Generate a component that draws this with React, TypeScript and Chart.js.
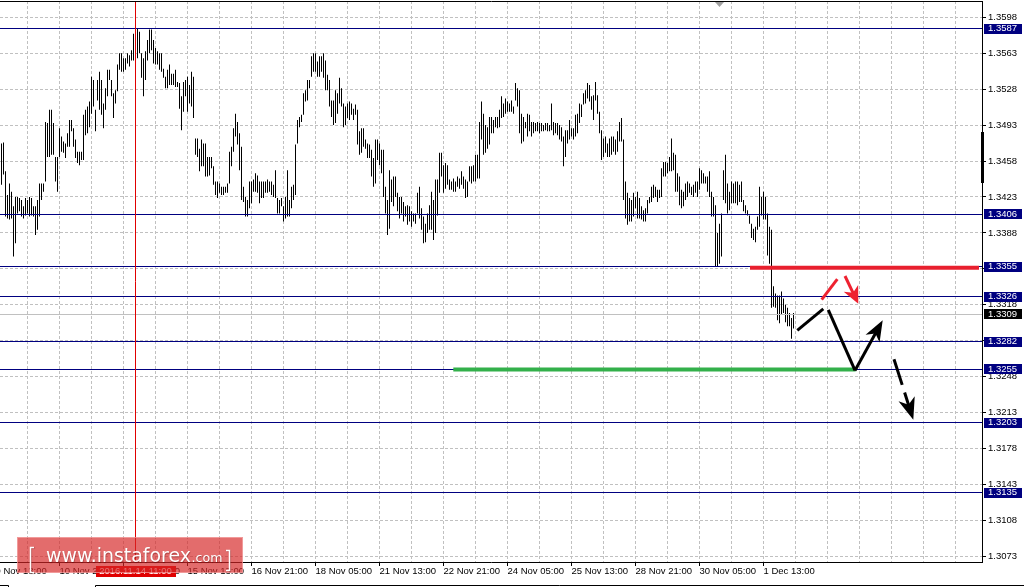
import React, { useEffect, useRef } from 'react';
import { Chart, registerables } from 'chart.js';

Chart.register(...registerables);

// H1 bars, index 0 = 9 Nov 16:00 ... index 396 = 1 Dec (last bar)
const highs = [
  1.3475, 1.3476, 1.3448, 1.3425, 1.3436, 1.3428, 1.3414, 1.3423, 1.3423, 1.3422,
  1.3420, 1.3414, 1.3422, 1.3420, 1.3423, 1.3422, 1.3414, 1.3414, 1.3420, 1.3436,
  1.3436, 1.3436, 1.3496, 1.3495, 1.3508, 1.3508, 1.3495, 1.3462, 1.3462, 1.3490,
  1.3482, 1.3477, 1.3475, 1.3485, 1.3498, 1.3498, 1.3490, 1.3479, 1.3467, 1.3467,
  1.3467, 1.3503, 1.3508, 1.3511, 1.3516, 1.3540, 1.3537, 1.3508, 1.3537, 1.3545,
  1.3537, 1.3514, 1.3529, 1.3547, 1.3547, 1.3537, 1.3524, 1.3527, 1.3552, 1.3563,
  1.3563, 1.3558, 1.3558, 1.3563, 1.3561, 1.3566, 1.3582, 1.3587, 1.3587, 1.3584,
  1.3563, 1.3558, 1.3565, 1.3576, 1.3586, 1.3586, 1.3576, 1.3568, 1.3565, 1.3563,
  1.3563, 1.3548, 1.3540, 1.3547, 1.3552, 1.3543, 1.3543, 1.3547, 1.3535, 1.3534,
  1.3521, 1.3535, 1.3537, 1.3540, 1.3532, 1.3545, 1.3540, 1.3480, 1.3480, 1.3470,
  1.3479, 1.3475, 1.3475, 1.3462, 1.3462, 1.3462, 1.3453, 1.3438, 1.3438, 1.3436,
  1.3433, 1.3433, 1.3433, 1.3436, 1.3467, 1.3472, 1.3490, 1.3504, 1.3496, 1.3485,
  1.3472, 1.3433, 1.3423, 1.3420, 1.3438, 1.3438, 1.3440, 1.3446, 1.3444, 1.3438,
  1.3438, 1.3438, 1.3438, 1.3440, 1.3438, 1.3438, 1.3435, 1.3449, 1.3422, 1.3420,
  1.3422, 1.3414, 1.3423, 1.3449, 1.3420, 1.3433, 1.3435, 1.3474, 1.3498, 1.3501,
  1.3503, 1.3524, 1.3527, 1.3537, 1.3537, 1.3560, 1.3563, 1.3563, 1.3555, 1.3560,
  1.3560, 1.3563, 1.3556, 1.3542, 1.3537, 1.3517, 1.3517, 1.3527, 1.3524, 1.3539,
  1.3529, 1.3514, 1.3511, 1.3514, 1.3516, 1.3514, 1.3509, 1.3513, 1.3508, 1.3487,
  1.3490, 1.3490, 1.3479, 1.3475, 1.3474, 1.3469, 1.3461, 1.3479, 1.3479, 1.3475,
  1.3469, 1.3469, 1.3433, 1.3420, 1.3449, 1.3440, 1.3443, 1.3443, 1.3427, 1.3423,
  1.3423, 1.3418, 1.3414, 1.3415, 1.3414, 1.3409, 1.3407, 1.3407, 1.3427, 1.3433,
  1.3412, 1.3404, 1.3397, 1.3407, 1.3415, 1.3428, 1.3420, 1.3440, 1.3440, 1.3466,
  1.3466, 1.3454, 1.3456, 1.3454, 1.3440, 1.3438, 1.3441, 1.3438, 1.3443, 1.3441,
  1.3448, 1.3443, 1.3440, 1.3438, 1.3453, 1.3453, 1.3454, 1.3464, 1.3464, 1.3496,
  1.3516, 1.3504, 1.3493, 1.3491, 1.3501, 1.3501, 1.3498, 1.3501, 1.3501, 1.3508,
  1.3521, 1.3514, 1.3519, 1.3516, 1.3514, 1.3517, 1.3511, 1.3534, 1.3529, 1.3527,
  1.3504, 1.3501, 1.3496, 1.3504, 1.3503, 1.3496, 1.3496, 1.3495, 1.3496, 1.3495,
  1.3495, 1.3493, 1.3495, 1.3495, 1.3493, 1.3514, 1.3496, 1.3495, 1.3495, 1.3493,
  1.3491, 1.3482, 1.3488, 1.3488, 1.3498, 1.3490, 1.3490, 1.3503, 1.3504, 1.3514,
  1.3513, 1.3524, 1.3527, 1.3534, 1.3532, 1.3521, 1.3522, 1.3535, 1.3522, 1.3506,
  1.3488, 1.3480, 1.3482, 1.3475, 1.3480, 1.3482, 1.3482, 1.3479, 1.3487, 1.3496,
  1.3500, 1.3479, 1.3438, 1.3427, 1.3422, 1.3420, 1.3427, 1.3423, 1.3428, 1.3422,
  1.3414, 1.3410, 1.3412, 1.3420, 1.3423, 1.3433, 1.3435, 1.3433, 1.3430, 1.3430,
  1.3451, 1.3457, 1.3457, 1.3456, 1.3462, 1.3480, 1.3466, 1.3464, 1.3446, 1.3443,
  1.3430, 1.3428, 1.3436, 1.3438, 1.3436, 1.3433, 1.3435, 1.3438, 1.3438, 1.3451,
  1.3449, 1.3446, 1.3443, 1.3443, 1.3448, 1.3428, 1.3423, 1.3415, 1.3388, 1.3397,
  1.3407, 1.3449, 1.3464, 1.3436, 1.3428, 1.3438, 1.3436, 1.3438, 1.3438, 1.3435,
  1.3438, 1.3420, 1.3415, 1.3410, 1.3405, 1.3397, 1.3392, 1.3394, 1.3404, 1.3433,
  1.3423, 1.3428, 1.3423, 1.3407, 1.3394, 1.3391, 1.3336, 1.3329, 1.3327, 1.3327,
  1.3331, 1.3324, 1.3318, 1.3315, 1.3310, 1.3305, 1.3310,
];

const lows = [
  1.3435, 1.3445, 1.3404, 1.3402, 1.3401, 1.3402, 1.3365, 1.3378, 1.3407, 1.3409,
  1.3404, 1.3402, 1.3405, 1.3407, 1.3404, 1.3405, 1.3404, 1.3386, 1.3391, 1.3404,
  1.3420, 1.3428, 1.3438, 1.3462, 1.3462, 1.3464, 1.3464, 1.3438, 1.3428, 1.3462,
  1.3467, 1.3466, 1.3461, 1.3472, 1.3472, 1.3487, 1.3472, 1.3461, 1.3456, 1.3454,
  1.3459, 1.3459, 1.3483, 1.3485, 1.3491, 1.3504, 1.3511, 1.3487, 1.3517, 1.3508,
  1.3503, 1.3490, 1.3508, 1.3521, 1.3537, 1.3521, 1.3500, 1.3514, 1.3526, 1.3547,
  1.3545, 1.3545, 1.3547, 1.3553, 1.3550, 1.3556, 1.3556, 1.3560, 1.3558, 1.3563,
  1.3539, 1.3521, 1.3537, 1.3556, 1.3563, 1.3566, 1.3553, 1.3552, 1.3552, 1.3547,
  1.3545, 1.3539, 1.3529, 1.3529, 1.3532, 1.3532, 1.3532, 1.3530, 1.3530, 1.3509,
  1.3488, 1.3506, 1.3521, 1.3506, 1.3514, 1.3511, 1.3500, 1.3464, 1.3462, 1.3448,
  1.3453, 1.3453, 1.3443, 1.3443, 1.3444, 1.3451, 1.3435, 1.3425, 1.3422, 1.3427,
  1.3425, 1.3425, 1.3427, 1.3427, 1.3436, 1.3453, 1.3467, 1.3482, 1.3474, 1.3449,
  1.3420, 1.3418, 1.3404, 1.3404, 1.3412, 1.3417, 1.3428, 1.3428, 1.3427, 1.3417,
  1.3422, 1.3422, 1.3427, 1.3427, 1.3428, 1.3425, 1.3423, 1.3422, 1.3407, 1.3407,
  1.3414, 1.3399, 1.3402, 1.3404, 1.3404, 1.3412, 1.3420, 1.3425, 1.3475, 1.3491,
  1.3496, 1.3503, 1.3516, 1.3517, 1.3529, 1.3540, 1.3545, 1.3545, 1.3540, 1.3540,
  1.3545, 1.3539, 1.3527, 1.3527, 1.3511, 1.3501, 1.3493, 1.3495, 1.3504, 1.3514,
  1.3511, 1.3491, 1.3493, 1.3500, 1.3498, 1.3503, 1.3498, 1.3503, 1.3474, 1.3464,
  1.3466, 1.3472, 1.3470, 1.3461, 1.3461, 1.3443, 1.3433, 1.3436, 1.3459, 1.3454,
  1.3446, 1.3423, 1.3407, 1.3386, 1.3392, 1.3418, 1.3414, 1.3423, 1.3409, 1.3402,
  1.3407, 1.3399, 1.3404, 1.3396, 1.3399, 1.3394, 1.3399, 1.3397, 1.3407, 1.3402,
  1.3391, 1.3378, 1.3379, 1.3388, 1.3391, 1.3391, 1.3381, 1.3388, 1.3405, 1.3427,
  1.3443, 1.3427, 1.3431, 1.3435, 1.3430, 1.3430, 1.3428, 1.3428, 1.3433, 1.3431,
  1.3435, 1.3431, 1.3422, 1.3423, 1.3438, 1.3436, 1.3438, 1.3438, 1.3441, 1.3441,
  1.3479, 1.3464, 1.3466, 1.3470, 1.3474, 1.3485, 1.3485, 1.3491, 1.3490, 1.3491,
  1.3500, 1.3501, 1.3504, 1.3506, 1.3506, 1.3506, 1.3504, 1.3517, 1.3511, 1.3485,
  1.3475, 1.3477, 1.3490, 1.3482, 1.3487, 1.3482, 1.3485, 1.3487, 1.3487, 1.3485,
  1.3487, 1.3487, 1.3488, 1.3487, 1.3487, 1.3488, 1.3483, 1.3485, 1.3483, 1.3479,
  1.3477, 1.3453, 1.3462, 1.3475, 1.3479, 1.3482, 1.3479, 1.3482, 1.3485, 1.3495,
  1.3501, 1.3513, 1.3514, 1.3519, 1.3516, 1.3508, 1.3498, 1.3517, 1.3504, 1.3485,
  1.3459, 1.3462, 1.3466, 1.3462, 1.3462, 1.3464, 1.3467, 1.3464, 1.3467, 1.3477,
  1.3477, 1.3420, 1.3402, 1.3396, 1.3399, 1.3399, 1.3404, 1.3412, 1.3402, 1.3402,
  1.3401, 1.3399, 1.3399, 1.3407, 1.3417, 1.3418, 1.3422, 1.3423, 1.3418, 1.3422,
  1.3423, 1.3443, 1.3443, 1.3446, 1.3448, 1.3448, 1.3449, 1.3428, 1.3428, 1.3415,
  1.3412, 1.3414, 1.3420, 1.3423, 1.3427, 1.3425, 1.3423, 1.3427, 1.3423, 1.3430,
  1.3436, 1.3436, 1.3436, 1.3428, 1.3423, 1.3404, 1.3404, 1.3355, 1.3355, 1.3358,
  1.3365, 1.3420, 1.3417, 1.3407, 1.3410, 1.3417, 1.3417, 1.3417, 1.3415, 1.3418,
  1.3418, 1.3409, 1.3407, 1.3405, 1.3397, 1.3383, 1.3381, 1.3379, 1.3391, 1.3394,
  1.3405, 1.3401, 1.3401, 1.3366, 1.3358, 1.3315, 1.3316, 1.3315, 1.3303, 1.3300,
  1.3308, 1.3310, 1.3301, 1.3297, 1.3297, 1.3285, 1.3295,
];

const yTicks = [
  1.3598, 1.3563, 1.3528, 1.3493, 1.3458, 1.3423, 1.3388, 1.3353,
  1.3318, 1.3283, 1.3248, 1.3213, 1.3178, 1.3143, 1.3108, 1.3073,
];
const yMin = 1.3067447;
const yMax = 1.3613877;

const levels = [1.3587, 1.3406, 1.3355, 1.3326, 1.3282, 1.3255, 1.3203, 1.3135];
const currentPrice = 1.3309;

const timeLabels = [
  '9 Nov 13:00', '10 Nov 21:00', '14 Nov 05:00', '15 Nov 13:00', '16 Nov 21:00',
  '18 Nov 05:00', '21 Nov 13:00', '22 Nov 21:00', '24 Nov 05:00', '25 Nov 13:00',
  '28 Nov 21:00', '30 Nov 05:00', '1 Dec 13:00',
];
const timeLabelBars = [-3, 29, 61, 93, 125, 157, 189, 221, 253, 285, 317, 349, 381];

const crossBar = 67;
const crossLabel = '2016.11.14 11:00';

// drawn objects (bar index, price)
const resistanceLine = [[374.25, 1.3355], [488.75, 1.3355]];
const supportLine = [[225.9, 1.3255], [427.1, 1.3255]];
const blackSegments = [
  [[397.9, 1.3293], [410.9, 1.3314]],
  [[413.4, 1.3313], [426.75, 1.3254]],
];
const blackArrow = [[426.75, 1.3254], [440.6, 1.3303]];
const blackDashedArrow = [[446.25, 1.3265], [455.9, 1.3206]];
const redSegment = [[410.1, 1.3323], [417.9, 1.3343]];
const redArrow = [[421.75, 1.3346], [428.4, 1.3319]];

const FONT = '"Liberation Sans", Arial, sans-serif';
const WM_FONT = '"DejaVu Sans", Verdana, sans-serif';
const FONT_SIZE = 9.5;

function drawArrowPx(
  ctx: CanvasRenderingContext2D,
  x1: number, y1: number, x2: number, y2: number,
  color: string, width: number, headLen: number, headHalf: number, dash: number[] | null,
) {
  const ang = Math.atan2(y2 - y1, x2 - x1);
  const c = Math.cos(ang), s = Math.sin(ang);
  ctx.save();
  ctx.strokeStyle = color;
  ctx.fillStyle = color;
  ctx.lineWidth = width;
  ctx.lineCap = 'butt';
  ctx.setLineDash(dash || []);
  ctx.beginPath();
  ctx.moveTo(x1, y1);
  ctx.lineTo(x2 - headLen * 0.6 * c, y2 - headLen * 0.6 * s);
  ctx.stroke();
  ctx.setLineDash([]);
  const bx = x2 - headLen * c, by = y2 - headLen * s;
  const nx = -s, ny = c;
  ctx.beginPath();
  ctx.moveTo(x2, y2);
  ctx.lineTo(bx + nx * headHalf, by + ny * headHalf);
  ctx.lineTo(x2 - headLen * 0.72 * c, y2 - headLen * 0.72 * s);
  ctx.lineTo(bx - nx * headHalf, by - ny * headHalf);
  ctx.closePath();
  ctx.fill();
  ctx.restore();
}

const overlayPlugin = {
  id: 'mtOverlay',
  afterDatasetsDraw(chart: any) {
    const { ctx, chartArea: a, scales } = chart;
    const px = (v: number) => scales.x.getPixelForValue(v);
    const py = (v: number) => scales.y.getPixelForValue(v);
    ctx.save();
    ctx.beginPath();
    ctx.rect(a.left, a.top, a.right - a.left, a.bottom - a.top);
    ctx.clip();

    const hline = (yv: number, color: string) => {
      const yy = Math.floor(yv) + 0.5;
      ctx.strokeStyle = color;
      ctx.lineWidth = 1;
      ctx.beginPath();
      ctx.moveTo(a.left, yy);
      ctx.lineTo(a.right, yy);
      ctx.stroke();
    };
    hline(py(currentPrice), '#c0c0c0');
    levels.forEach((l) => hline(py(l), '#000080'));

    // crosshair
    const cx = Math.floor(px(crossBar)) + 0.5;
    ctx.strokeStyle = '#e00000';
    ctx.lineWidth = 1;
    ctx.beginPath();
    ctx.moveTo(cx, a.top);
    ctx.lineTo(cx, a.bottom);
    ctx.stroke();

    // thick levels
    ctx.lineCap = 'butt';
    ctx.lineWidth = 4;
    ctx.strokeStyle = '#e8202e';
    ctx.beginPath();
    ctx.moveTo(px(resistanceLine[0][0]), py(resistanceLine[0][1]) + 1);
    ctx.lineTo(px(resistanceLine[1][0]), py(resistanceLine[1][1]) + 1);
    ctx.stroke();
    ctx.strokeStyle = '#33b04b';
    ctx.beginPath();
    ctx.moveTo(px(supportLine[0][0]), py(supportLine[0][1]));
    ctx.lineTo(px(supportLine[1][0]), py(supportLine[1][1]));
    ctx.stroke();

    // black segments
    ctx.strokeStyle = '#000';
    ctx.lineWidth = 3;
    blackSegments.forEach((seg) => {
      ctx.beginPath();
      ctx.moveTo(px(seg[0][0]), py(seg[0][1]));
      ctx.lineTo(px(seg[1][0]), py(seg[1][1]));
      ctx.stroke();
    });
    drawArrowPx(ctx, px(blackArrow[0][0]), py(blackArrow[0][1]), px(blackArrow[1][0]), py(blackArrow[1][1]),
      '#000', 3, 21, 8, null);
    drawArrowPx(ctx, px(blackDashedArrow[0][0]), py(blackDashedArrow[0][1]), px(blackDashedArrow[1][0]), py(blackDashedArrow[1][1]),
      '#000', 3, 22, 8.5, [27, 8]);

    // red
    ctx.strokeStyle = '#ee2230';
    ctx.lineWidth = 3;
    ctx.beginPath();
    ctx.moveTo(px(redSegment[0][0]), py(redSegment[0][1]));
    ctx.lineTo(px(redSegment[1][0]), py(redSegment[1][1]));
    ctx.stroke();
    drawArrowPx(ctx, px(redArrow[0][0]), py(redArrow[0][1]), px(redArrow[1][0]), py(redArrow[1][1]),
      '#ee2230', 3, 17, 8, null);

    ctx.restore();
  },
  afterDraw(chart: any) {
    const { ctx, chartArea: a, scales } = chart;
    const px = (v: number) => scales.x.getPixelForValue(v);
    const py = (v: number) => scales.y.getPixelForValue(v);
    const W = chart.width;
    ctx.save();

    // frame
    ctx.strokeStyle = '#000';
    ctx.lineWidth = 1;
    ctx.beginPath();
    ctx.moveTo(0, a.top + 0.5);
    ctx.lineTo(a.right + 1, a.top + 0.5);
    ctx.moveTo(a.right + 0.5, a.top);
    ctx.lineTo(a.right + 0.5, a.bottom + 1);
    ctx.moveTo(0, a.bottom + 0.5);
    ctx.lineTo(a.right + 1, a.bottom + 0.5);
    ctx.stroke();

    // scale position marker on right border
    ctx.fillStyle = '#000';
    ctx.fillRect(a.right - 1, 132, 3, 51);

    // chart shift marker
    ctx.fillStyle = '#a0a0a0';
    ctx.beginPath();
    ctx.moveTo(715, a.top + 1);
    ctx.lineTo(724, a.top + 1);
    ctx.lineTo(719.5, a.top + 6);
    ctx.closePath();
    ctx.fill();

    // price boxes
    ctx.font = `${FONT_SIZE}px ${FONT}`;
    ctx.textBaseline = 'middle';
    ctx.textAlign = 'left';
    const box = (v: number, bg: string) => {
      const yy = py(v);
      ctx.fillStyle = bg;
      ctx.fillRect(a.right + 2, Math.round(yy) - 5, 38, 10);
      ctx.fillStyle = '#ffffff';
      ctx.fillText(v.toFixed(4), a.right + 6, yy);
    };
    levels.forEach((l) => box(l, '#000080'));
    box(currentPrice, '#000000');

    // crosshair time label
    const cx = px(crossBar);
    ctx.fillStyle = '#e00000';
    ctx.fillRect(Math.round(cx) - 40, 566, 80, 11);
    ctx.fillStyle = '#ffffff';
    ctx.textAlign = 'center';
    ctx.fillText(crossLabel, cx, 571.5);

    // watermark
    ctx.fillStyle = 'rgba(214, 38, 38, 0.68)';
    ctx.fillRect(17, 537, 226, 36);
    ctx.strokeStyle = 'rgba(255, 200, 200, 0.5)';
    ctx.lineWidth = 1;
    ctx.strokeRect(17.5, 537.5, 225, 35);
    ctx.fillStyle = '#ffffff';
    ctx.textAlign = 'left';
    ctx.textBaseline = 'alphabetic';
    ctx.shadowColor = 'rgba(90, 0, 0, 0.45)';
    ctx.shadowBlur = 1;
    ctx.shadowOffsetX = 0.5;
    ctx.shadowOffsetY = 0.5;
    ctx.font = `20px ${WM_FONT}`;
    const w1 = ctx.measureText('www.instaforex').width;
    ctx.font = `${(20 * 145) / w1}px ${WM_FONT}`;
    ctx.fillText('www.instaforex', 46, 562);
    ctx.font = `15px ${WM_FONT}`;
    const w2 = ctx.measureText('.com').width;
    ctx.font = `${(15 * 31) / w2}px ${WM_FONT}`;
    ctx.fillText('.com', 191.5, 562);
    ctx.strokeStyle = '#ffffff';
    ctx.lineWidth = 1.5;
    ctx.beginPath();
    ctx.moveTo(34, 547.5);
    ctx.lineTo(30.5, 547.5);
    ctx.lineTo(30.5, 572.5);
    ctx.lineTo(34, 572.5);
    ctx.moveTo(226, 550.5);
    ctx.lineTo(229.5, 550.5);
    ctx.lineTo(229.5, 570.5);
    ctx.lineTo(226, 570.5);
    ctx.stroke();
    ctx.shadowColor = 'rgba(0,0,0,0)';

    // bottom tab strip
    ctx.strokeStyle = '#000';
    ctx.lineWidth = 1;
    ctx.beginPath();
    ctx.moveTo(0, 585.5);
    ctx.lineTo(8.5, 585.5);
    ctx.lineTo(8.5, 587);
    ctx.moveTo(95.5, 587);
    ctx.lineTo(95.5, 585.5);
    ctx.lineTo(W, 585.5);
    ctx.stroke();

    ctx.restore();
  },
};

export default function App() {
  const ref = useRef<HTMLCanvasElement | null>(null);

  useEffect(() => {
    document.body.style.margin = '0';
    const canvas = ref.current;
    if (!canvas) return;

    const bars = highs.map((h, i) => ({ x: i, y: [lows[i], h] }));
    const gridTicks: number[] = [];
    for (let v = timeLabelBars[0]; v <= 477; v += 16) gridTicks.push(v);
    const labelFor = (v: number) => {
      const k = timeLabelBars.indexOf(v);
      return k >= 0 ? timeLabels[k] : '';
    };

    const chart = new Chart(canvas, {
      type: 'bar',
      data: {
        datasets: [
          {
            data: bars as any,
            backgroundColor: '#000000',
            borderWidth: 0,
            barThickness: 1,
            inflateAmount: 0,
          } as any,
        ],
      },
      options: {
        animation: false,
        responsive: false,
        maintainAspectRatio: false,
        devicePixelRatio: 1,
        events: [],
        layout: { padding: { top: 1, left: 0, right: 0, bottom: 0 } },
        plugins: { legend: { display: false }, tooltip: { enabled: false } },
        scales: {
          x: {
            type: 'linear',
            min: -0.75,
            max: 490.25,
            offset: false,
            position: 'bottom',
            afterBuildTicks: (s: any) => {
              s.ticks = gridTicks.map((v) => ({ value: v }));
            },
            afterFit: (s: any) => {
              s.height = 25;
              s.paddingLeft = 0;
              s.paddingRight = 0;
            },
            ticks: {
              autoSkip: false,
              maxRotation: 0,
              minRotation: 0,
              align: 'start',
              padding: 0,
              color: '#000000',
              font: { family: FONT, size: FONT_SIZE },
              callback: (v: any) => labelFor(Number(v)),
            },
            grid: {
              color: '#c0c0c0',
              lineWidth: 1,
              offset: false,
              drawTicks: true,
              tickLength: 4,
              tickBorderDash: [],
              tickColor: (c: any) =>
                c.tick && timeLabelBars.includes(c.tick.value) ? '#000000' : 'rgba(0,0,0,0)',
            },
            border: { display: false, dash: [3, 2] },
          } as any,
          y: {
            type: 'linear',
            position: 'right',
            min: yMin,
            max: yMax,
            afterBuildTicks: (s: any) => {
              s.ticks = yTicks.map((v) => ({ value: v }));
            },
            afterFit: (s: any) => {
              s.width = 42;
              s.paddingTop = 0;
              s.paddingBottom = 0;
            },
            ticks: {
              autoSkip: false,
              padding: 2,
              color: '#000000',
              font: { family: FONT, size: FONT_SIZE },
              callback: (v: any) => Number(v).toFixed(4),
            },
            grid: {
              color: '#c0c0c0',
              lineWidth: 1,
              drawTicks: true,
              tickLength: 4,
              tickBorderDash: [],
              tickColor: '#000000',
            },
            border: { display: false, dash: [3, 2] },
          } as any,
        },
      },
      plugins: [overlayPlugin],
    });

    return () => chart.destroy();
  }, []);

  return (
    <div style={{ width: 1024, height: 587, background: '#ffffff' }}>
      <canvas ref={ref} width={1024} height={587} style={{ display: 'block' }} />
    </div>
  );
}
